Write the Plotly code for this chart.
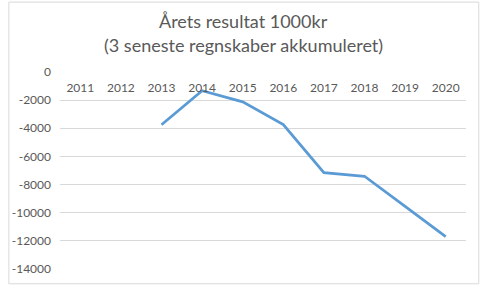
import plotly.graph_objects as go

years = ["2011", "2012", "2013", "2014", "2015", "2016", "2017", "2018", "2019", "2020"]
values = [None, None, -3750, -1330, -2120, -3730, -7150, -7410, -9550, -11700]
y_ticks = [0, -2000, -4000, -6000, -8000, -10000, -12000, -14000]
title_lines = ["Årets resultat 1000kr", "(3 seneste regnskaber akkumuleret)"]

W, H = 480, 288
ml, mr, mt, mb = 53, 14, 72, 16
pw, ph = W - ml - mr, H - mt - mb

fig = go.Figure()
fig.add_trace(go.Scatter(
    x=years, y=values, mode="lines",
    line=dict(color="#5b9bd5", width=2.75),
    connectgaps=False, hoverinfo="skip", showlegend=False,
))

fig.update_layout(
    width=W, height=H,
    margin=dict(l=ml, r=mr, t=mt, b=mb),
    paper_bgcolor="white", plot_bgcolor="white",
    font=dict(family="Lato, Calibri, sans-serif", color="#595959", size=12),
    xaxis=dict(
        type="category", range=[-0.5, 9.5],
        showgrid=False, zeroline=False, showline=False,
        anchor="free", position=1, side="bottom",
        ticks="", ticklabelstandoff=7,
        tickfont=dict(size=12, color="#595959"),
    ),
    yaxis=dict(
        range=[-14000, 0], tickvals=y_ticks,
        ticktext=[str(v) for v in y_ticks],
        showgrid=True, gridcolor="#d9d9d9", gridwidth=1,
        zeroline=False, showline=False, ticks="",
        ticklabelstandoff=8,
        tickfont=dict(size=12, color="#595959"),
    ),
)

for i, (txt, ypx) in enumerate(zip(title_lines, [20, 45])):
    fig.add_annotation(
        text=txt, xref="paper", yref="paper",
        x=(240 - ml) / pw, y=1 + (mt - ypx) / ph,
        xanchor="center", yanchor="middle", showarrow=False,
        font=dict(size=18, color="#595959"),
    )

# outer chart border
fig.add_shape(
    type="rect", xref="paper", yref="paper",
    x0=(1 - ml) / pw, x1=(W - 1 - ml) / pw,
    y0=-(mb - 1) / ph, y1=1 + (mt - 1) / ph,
    line=dict(color="#d9d9d9", width=1), layer="below",
)

fig.write_html("out.html")
